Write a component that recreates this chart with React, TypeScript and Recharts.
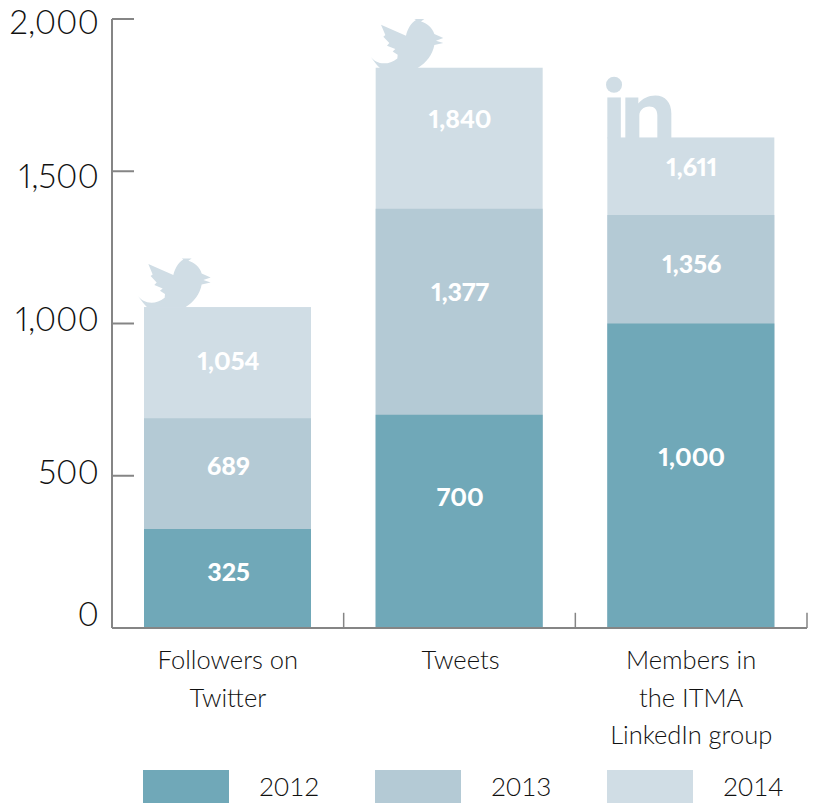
import React from "react";
import { BarChart, Bar, XAxis, YAxis, Legend, LabelList, ReferenceLine } from "recharts";

const categories = ["Followers on\nTwitter", "Tweets", "Members in\nthe ITMA\nLinkedIn group"];
const years = ["2012", "2013", "2014"];
const values2012 = [325, 700, 1000];
const values2013 = [689, 1377, 1356];
const values2014 = [1054, 1840, 1611];
const yTicks = [0, 500, 1000, 1500, 2000];
const edgeTicks = [1, 2, 3];
const icons = ["twitter", "twitter", "linkedin"];
const colors: Record<string, string> = { "2012": "#70a8b8", "2013": "#b4cad5", "2014": "#d0dde5" };

const rows = categories.map((category, i) => ({
  category,
  edge: i,
  v2012: values2012[i],
  v2013: values2013[i],
  v2014: values2014[i],
}));

const FONT = "Lato, sans-serif";
const AXIS = "#858585";
const yLabelNudge: Record<number, number> = { 0: -15, 500: -5, 1000: -6, 1500: 4, 2000: 2 };
const segmentNudge: Record<string, number[]> = {
  "2012": [-8, -25, -20],
  "2013": [-9, -21, -6],
  "2014": [-3, -20, -10],
};
const BIRD =
  "M-18,-33 C-5,-14 30,-2 62,-28 L63,-39 L48,-49 L56,-56 L31,-66 L38,-74 L20,-93 L26,-98 L13,-129 L88,-96 C92,-115 103,-134 118,-143 L113,-146 L143,-146 L133,-139 C150,-134 168,-120 173,-101 L200,-89 L178,-81 L200,-74 L173,-68 C168,-40 150,-15 123,1 L10,1 C0,-8 -8,-20 -18,-33 Z";

function Icon({ kind, x, y, fill, nudge }: { kind: string; x: number; y: number; fill: string; nudge: number }) {
  if (kind === "twitter") {
    return <path d={BIRD} transform={`translate(${x + nudge},${y}) scale(0.3333)`} fill={fill} />;
  }
  return (
    <g transform={`translate(${x},${y})`} fill={fill}>
      <circle cx={6.7} cy={-52.7} r={8} />
      <rect x={0} y={-40} width={13.5} height={41} />
      <path d="M18,1 V-40 H31 V-34 C35,-39 41,-42 48,-42 C58,-42 64,-35 64,-24 V1 H50 V-22 C50,-28 47,-31 42,-31 C36,-31 32,-27 32,-22 V1 Z" />
    </g>
  );
}

function TopBar(props: any) {
  const { x, y, width, height, index, fill } = props;
  return (
    <g>
      <Icon kind={icons[index]} x={x} y={y} fill={fill} nudge={index === 1 ? 1 : 0} />
      <rect x={x} y={y} width={width} height={height} fill={fill} />
    </g>
  );
}

function segmentLabel(year: string, lower: number[]) {
  return (props: any) => {
    const { x, y, width, height, index, value } = props;
    const lowerHeight = (height * lower[index]) / value;
    const cy = y + (height - lowerHeight) / 2 + segmentNudge[year][index];
    return (
      <text
        x={x + width / 2 + 1}
        y={cy}
        textAnchor="middle"
        dominantBaseline="central"
        fill="#fff"
        fontFamily={FONT}
        fontWeight={900}
        fontSize={25}
        style={{ fontVariantNumeric: "proportional-nums" }}
      >
        {Number(value).toLocaleString("en-US")}
      </text>
    );
  };
}

function YTick(props: any) {
  const { y, payload } = props;
  return (
    <text
      x={99}
      y={y + yLabelNudge[payload.value]}
      textAnchor="end"
      dominantBaseline="central"
      fontFamily={FONT}
      fontWeight={300}
      fontSize={33}
      fill="#111"
      style={{ fontVariantNumeric: "proportional-nums" }}
    >
      {Number(payload.value).toLocaleString("en-US")}
    </text>
  );
}

function XTick(props: any) {
  const { x, payload } = props;
  const lines = String(payload.value).split("\n");
  return (
    <g>
      {lines.map((line, i) => (
        <text
          key={line}
          x={x - 4 + (lines.length === 1 ? 5 : 4)}
          y={659 + i * 37.5}
          textAnchor="middle"
          dominantBaseline="central"
          fontFamily={FONT}
          fontWeight={300}
          fontSize={25.5}
          fill="#111"
        >
          {line}
        </text>
      ))}
    </g>
  );
}

function LegendRow() {
  return (
    <div style={{ position: "relative", width: 816, height: 33 }}>
      {years.map((year, i) => (
        <React.Fragment key={year}>
          <div
            style={{
              position: "absolute",
              left: 143 + i * 232,
              top: 0,
              width: 86,
              height: 33,
              background: colors[year],
            }}
          />
          <div
            style={{
              position: "absolute",
              left: 259 + i * 232,
              top: 0,
              height: 33,
              lineHeight: "33px",
              fontFamily: FONT,
              fontWeight: 300,
              fontSize: 26,
              color: "#111",
            }}
          >
            {year}
          </div>
        </React.Fragment>
      ))}
    </div>
  );
}

export default function App() {
  return (
    <div style={{ position: "absolute", left: 0, top: 0, width: 816, height: 803, overflow: "hidden" }}>
      <BarChart
        width={816}
        height={803}
        data={rows}
        margin={{ top: 19, right: 9, bottom: 0, left: 0 }}
        barSize={167}
        barGap={-167}
      >
        <XAxis
          dataKey="category"
          xAxisId="cat"
          height={142}
          interval={0}
          tick={<XTick />}
          tickLine={false}
          axisLine={{ stroke: AXIS, strokeWidth: 2 }}
        />
        <XAxis xAxisId="edge" dataKey="edge" type="number" domain={[0, 3]} allowDataOverflow hide />
        <YAxis
          width={112}
          domain={[0, 2000]}
          ticks={yTicks}
          interval={0}
          tick={<YTick />}
          tickSize={-22}
          tickLine={{ stroke: AXIS, strokeWidth: 2 }}
          axisLine={{ stroke: AXIS, strokeWidth: 2 }}
        />
        {edgeTicks.map((t) => (
          <ReferenceLine
            key={t}
            xAxisId="edge"
            segment={[
              { x: t, y: 0 },
              { x: t, y: 50 },
            ]}
            stroke={AXIS}
            strokeWidth={1.5}
          />
        ))}
        <Legend verticalAlign="bottom" height={33} content={<LegendRow />} wrapperStyle={{ left: 0, width: 816 }} />
        <Bar xAxisId="cat" dataKey="v2014" name="2014" fill={colors["2014"]} shape={<TopBar />} isAnimationActive={false}>
          <LabelList dataKey="v2014" content={segmentLabel("2014", values2013)} />
        </Bar>
        <Bar xAxisId="cat" dataKey="v2013" name="2013" fill={colors["2013"]} isAnimationActive={false}>
          <LabelList dataKey="v2013" content={segmentLabel("2013", values2012)} />
        </Bar>
        <Bar xAxisId="cat" dataKey="v2012" name="2012" fill={colors["2012"]} isAnimationActive={false}>
          <LabelList dataKey="v2012" content={segmentLabel("2012", [0, 0, 0])} />
        </Bar>
      </BarChart>
    </div>
  );
}
